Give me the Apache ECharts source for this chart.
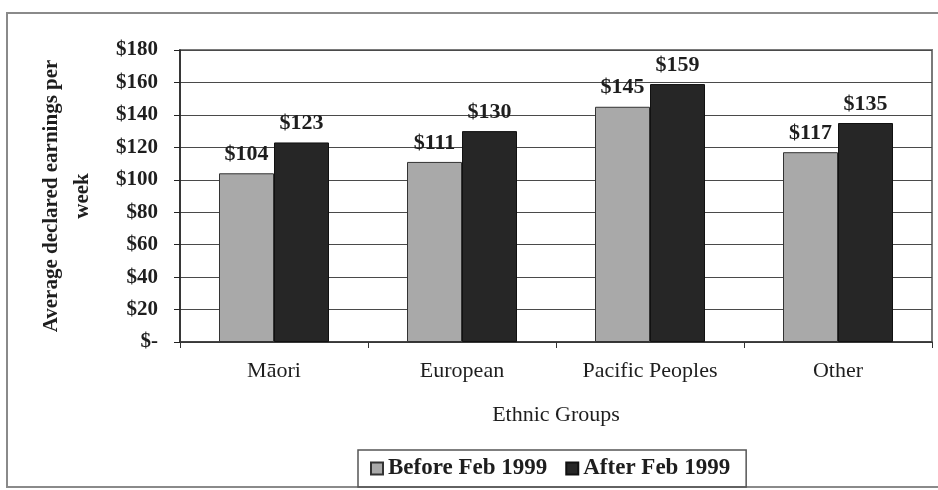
<!DOCTYPE html>
<html>
<head>
<meta charset="utf-8">
<script src="https://cdn.jsdelivr.net/npm/echarts@6/dist/echarts.min.js"></script>
<style>
  html, body { margin: 0; padding: 0; background: #fff; }
  #chart { width: 938px; height: 490px; }
</style>
</head>
<body>
<div id="chart"></div>
<script>
// Average declared weekly earnings by ethnic group
var categories = ['Māori', 'European', 'Pacific Peoples', 'Other'];
var seriesNames = ['Before Feb 1999', 'After Feb 1999'];
var beforeValues = [104, 111, 145, 117];
var afterValues = [123, 130, 159, 135];
var yTicks = [0, 20, 40, 60, 80, 100, 120, 140, 160, 180];

var serif = '"Liberation Serif", "DejaVu Serif", serif';
var textColor = '#1e1e1e';

function money(v) {
  return v === 0 ? '$-' : '$' + v;
}

var chart = echarts.init(document.getElementById('chart'), null, { renderer: 'canvas' });

var barLabel = {
  show: true,
  position: 'top',
  distance: 8,
  fontFamily: serif,
  fontWeight: 'bold',
  fontSize: 22,
  color: textColor,
  formatter: function (p) { return money(p.value); }
};

chart.setOption({
  backgroundColor: '#ffffff',
  animation: false,
  graphic: [{
    type: 'rect',
    shape: { x: 7, y: 13, width: 940, height: 474 },
    style: { fill: 'none', stroke: '#8a8a8a', lineWidth: 2 },
    z: 0
  }],
  grid: {
    left: 180, right: 6, top: 50, bottom: 148,
    outerBoundsMode: 'none',
    containLabel: false,
    show: true,
    borderColor: '#7a7a7a',
    borderWidth: 2,
    backgroundColor: 'transparent'
  },
  legend: {
    left: 358,
    top: 450,
    data: seriesNames,
    icon: 'rect',
    itemWidth: 12,
    itemHeight: 12,
    itemGap: 18,
    padding: [7, 16, 7, 12],
    borderColor: '#555',
    borderWidth: 1.5,
    textStyle: { fontFamily: serif, fontWeight: 'bold', fontSize: 23, color: textColor }
  },
  xAxis: {
    type: 'category',
    data: categories,
    name: 'Ethnic Groups',
    nameLocation: 'middle',
    nameGap: 62,
    nameTextStyle: { fontFamily: serif, fontSize: 22, color: textColor },
    axisLine: { lineStyle: { color: '#333', width: 1.5 } },
    axisTick: { show: true, length: 6, lineStyle: { color: '#333' } },
    axisLabel: { margin: 18, fontFamily: serif, fontSize: 22, color: textColor }
  },
  yAxis: {
    type: 'value',
    min: 0,
    max: 180,
    interval: 20,
    name: 'Average declared earnings per\nweek',
    nameLocation: 'middle',
    nameGap: 82,
    nameRotate: 90,
    nameTextStyle: { fontFamily: serif, fontWeight: 'bold', fontSize: 21, lineHeight: 31, color: textColor, align: 'center' },
    axisLine: { show: true, lineStyle: { color: '#222', width: 1.5 } },
    axisTick: { show: true, length: 6, lineStyle: { color: '#222' } },
    splitLine: { show: true, lineStyle: { color: '#4a4a4a', width: 1 } },
    axisLabel: {
      margin: 22,
      fontFamily: serif,
      fontWeight: 'bold',
      fontSize: 21,
      color: textColor,
      customValues: yTicks,
      formatter: function (v) { return money(v); }
    }
  },
  series: [{
    name: seriesNames[0],
    type: 'bar',
    data: beforeValues,
    barWidth: 55,
    barGap: '0%',
    itemStyle: { color: '#a9a9a9', borderColor: '#333', borderWidth: 1 },
    label: barLabel
  }, {
    name: seriesNames[1],
    type: 'bar',
    data: afterValues,
    barWidth: 55,
    barGap: '0%',
    itemStyle: { color: '#262626', borderColor: '#111', borderWidth: 1 },
    label: barLabel
  }]
});
</script>
</body>
</html>
